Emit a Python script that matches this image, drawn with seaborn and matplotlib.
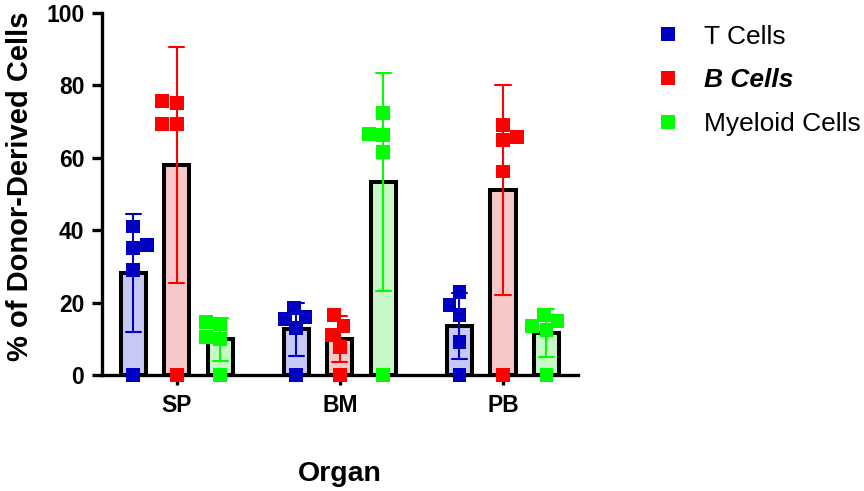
import numpy as np
import pandas as pd
import matplotlib
matplotlib.use('Agg')
import matplotlib.pyplot as plt
import seaborn as sns

# данные (5 животных на группу)
organs = ['SP', 'BM', 'PB']
cell_types = ['T Cells', 'B Cells', 'Myeloid Cells']

sp_t = [0, 29.0, 35.0, 36.0, 41.0]
sp_b = [0, 69.4, 69.4, 75.2, 75.8]
sp_m = [0, 10.0, 10.5, 14.0, 14.7]
bm_t = [0, 13.0, 15.5, 16.0, 18.5]
bm_b = [0, 7.8, 11.1, 13.6, 16.6]
bm_m = [0, 61.6, 66.2, 66.6, 72.3]
pb_t = [0, 9.2, 16.6, 19.4, 22.8]
pb_b = [0, 56.2, 65.0, 65.7, 69.1]
pb_m = [0, 12.5, 13.5, 15.0, 16.5]

bar_colors = ['#C0C0FF', '#FFC0C0', '#C0FFC0']
point_colors = ['#0000C0', '#FF0000', '#00FF00']

groups = {
    ('SP', 'T Cells'): sp_t, ('SP', 'B Cells'): sp_b, ('SP', 'Myeloid Cells'): sp_m,
    ('BM', 'T Cells'): bm_t, ('BM', 'B Cells'): bm_b, ('BM', 'Myeloid Cells'): bm_m,
    ('PB', 'T Cells'): pb_t, ('PB', 'B Cells'): pb_b, ('PB', 'Myeloid Cells'): pb_m,
}
rows = []
for (organ, cell), vals in groups.items():
    for v in vals:
        rows.append((organ, cell, v))
df = pd.DataFrame(rows, columns=['Organ', 'Cell', 'Value'])

sns.set_style('ticks')
plt.rcParams['font.family'] = ['Liberation Sans', 'DejaVu Sans']
for key in ['text.color', 'axes.labelcolor', 'xtick.color', 'ytick.color', 'axes.edgecolor']:
    plt.rcParams[key] = 'black'

fig = plt.figure(figsize=(8.64, 4.91), dpi=100)
ax = fig.add_axes([0.1177, 0.2363, 0.5513, 0.7373])

sns.barplot(data=df, x='Organ', y='Value', hue='Cell', order=organs, hue_order=cell_types,
            palette=bar_colors, errorbar='sd', capsize=0.28, width=0.8, gap=0.42,
            edgecolor='black', linewidth=2.9, err_kws={'linewidth': 1.5},
            legend=False, ax=ax, zorder=2)

# усы ошибок в цвет точек
for i, line in enumerate(ax.lines):
    line.set_color(point_colors[i // 3])
    line.set_zorder(4)

sns.swarmplot(data=df, x='Organ', y='Value', hue='Cell', order=organs, hue_order=cell_types,
              palette=point_colors, dodge=True, marker='s', size=10,
              linewidth=0, ax=ax, zorder=3)
for coll in ax.collections:
    coll.set_clip_on(False)

ax.set_xlim(-0.46, 2.46)
ax.set_ylim(0, 100)
ax.set_yticks([0, 20, 40, 60, 80, 100])
sns.despine(ax=ax)
for side in ['left', 'bottom']:
    ax.spines[side].set_linewidth(2.4)
    ax.spines[side].set_color('black')
ax.tick_params(axis='both', width=2.4, length=7.5, labelsize=16.5, pad=5, colors='black')
ax.tick_params(axis='x', pad=6)
for lab in ax.get_xticklabels() + ax.get_yticklabels():
    lab.set_fontweight('bold')

ax.set_ylabel('% of Donor-Derived Cells', fontsize=21, fontweight='bold', color='black')
ax.yaxis.set_label_coords(-0.143, 0.522)
ax.set_xlabel('Organ', fontsize=20.5, fontweight='bold', color='black')
ax.xaxis.set_label_coords(0.5, -0.239)

sns.move_legend(ax, 'upper left', bbox_to_anchor=(0.7576, 0.95), bbox_transform=fig.transFigure,
                frameon=False, title=None, fontsize=19, handlelength=1.0, handletextpad=0.88,
                labelspacing=0.75, borderpad=0, borderaxespad=0)
leg = ax.get_legend()
for t in leg.get_texts():
    t.set_color('black')
    if t.get_text() == 'B Cells':
        t.set_fontweight('bold')
        t.set_fontstyle('italic')

fig.savefig('out.png', dpi=100)
